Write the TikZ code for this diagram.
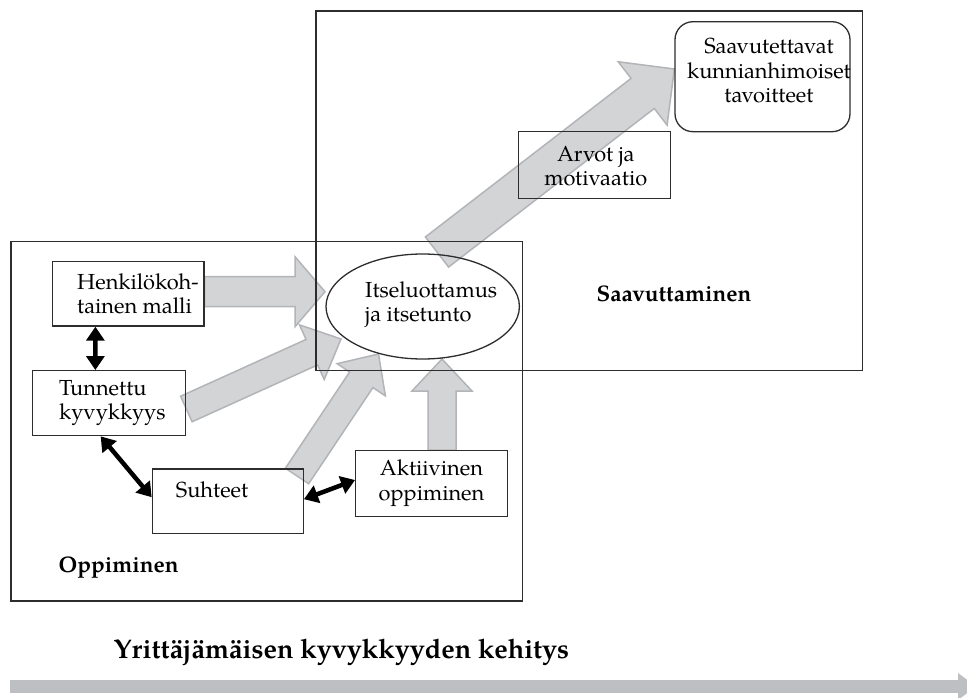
\documentclass[tikz,border=0pt]{standalone}
\usepackage{fontspec}
\setmainfont{TeX Gyre Pagella}
\usetikzlibrary{calc,arrows.meta,shapes.geometric}
\pgfdeclarelayer{background}
\pgfsetlayers{background,main}

\definecolor{frame}{RGB}{45,45,45}
\definecolor{blockfill}{RGB}{211,212,214}
\definecolor{blockedge}{RGB}{178,180,183}
\definecolor{timeline}{RGB}{190,191,194}

\tikzset{
  every node/.style={font=\fontsize{21.8}{24.5}\selectfont},
  region/.style={draw=frame, line width=1.4pt},
  box/.style={draw=frame, line width=1.3pt, rectangle, inner sep=0pt},
  txt/.style={inner sep=0pt, align=left},
  ctxt/.style={inner sep=0pt, align=center},
  heading/.style={inner sep=0pt, font=\fontsize{22.5}{26}\selectfont\bfseries},
  grayarrow/.style={fill=blockfill, draw=blockedge, line width=1.5pt, line join=miter},
  link/.style={draw=black, line width=4.5pt,
    {Triangle[width=18pt,length=14pt]}-{Triangle[width=18pt,length=14pt]}},
}

% block arrow: #1 start, #2 tip, #3 half shaft width, #4 half head width, #5 head length
\newcommand\blockarr[5]{%
  \coordinate (ba-h) at ($(#2)!#5!(#1)$);
  \draw[grayarrow]
    ($(#1)!#3!90:(#2)$) -- ($(ba-h)!#3!90:(#2)$) -- ($(ba-h)!#4!90:(#2)$) --
    (#2) --
    ($(ba-h)!#4!-90:(#2)$) -- ($(ba-h)!#3!-90:(#2)$) -- ($(#1)!#3!-90:(#2)$) -- cycle;
}

\begin{document}
\begin{tikzpicture}[x=1pt, y=-1pt]
\clip (0,0) rectangle (967,698);

% the two phases
\draw[region] (11,241.7) rectangle (522.7,601);
\draw[region] (316,11) rectangle (862.7,370.7);

% boxes
\node[box, minimum width=151.7pt, minimum height=64.3pt] (henk) at (128.2,293.9) {};
\node[box, minimum width=153.4pt, minimum height=65pt] (tunn) at (109,403.2) {};
\node[box, minimum width=151pt, minimum height=64.3pt] (suht) at (227.8,501.2) {};
\node[box, minimum width=151.6pt, minimum height=66pt] (akt) at (431.5,483.7) {};
\node[box, minimum width=152pt, minimum height=67pt] (arvot) at (594.7,164.7) {};
\node[box, rounded corners=18pt, minimum width=175pt, minimum height=110pt] (saav) at (762.5,76.7) {};
\node[draw=frame, line width=1.3pt, ellipse, inner sep=0pt,
      minimum width=193.4pt, minimum height=105pt] (ell) at (422.7,306.5) {};

% box texts
\node[txt, anchor=west] (henkT) at (77,294) {Henkilökoh-\\tainen malli};
\node[txt, anchor=west] (tunnT) at (59,403) {Tunnettu\\kyvykkyys};
\node[txt, anchor=west] (suhtT) at (175.7,490) {Suhteet};
\node[ctxt] (aktT) at (431.5,483) {Aktiivinen\\oppiminen};
\node[txt, anchor=west] (ellT) at (365,304.5) {Itseluottamus\\ja itsetunto};
\node[ctxt] (arvotT) at (595.8,166) {Arvot ja\\motivaatio};
\node[ctxt] (saavT) at (769,70.5) {Saavutettavat\\kunnianhimoiset\\tavoitteet};

% phase labels
\node[heading] (achL) at (674,294) {Saavuttaminen};
\node[heading, anchor=west] (learnL) at (58.5,568) {Oppiminen};
\node[heading, anchor=west, font=\fontsize{27}{30}\selectfont\bfseries] (devL) at (113.3,652) {Yrittäjämäisen kyvykkyyden kehitys};

% block arrows behind the frames
\begin{pgfonlayer}{background}
  \coordinate (a1) at ([yshift=2.2pt]henk.east);
  \coordinate (b1) at (325,291.7);
  \blockarr{a1}{b1}{15pt}{35pt}{30pt}
  \coordinate (a2) at ([yshift=-5.8pt]tunn.east);
  \coordinate (b2) at (341,339);
  \blockarr{a2}{b2}{14pt}{30pt}{32pt}
  \coordinate (a3) at (297,476);
  \coordinate (b3) at (378.5,354);
  \blockarr{a3}{b3}{14pt}{29pt}{31pt}
  \coordinate (a4) at ([xshift=10.5pt]akt.north);
  \coordinate (b4) at (442,359);
  \blockarr{a4}{b4}{14pt}{30pt}{32pt}
  \coordinate (a5) at (437,252);
  \coordinate (b5) at ([yshift=7.7pt]saav.west);
  \blockarr{a5}{b5}{19pt}{40pt}{40pt}
\end{pgfonlayer}

% two-way links
\coordinate (l1a) at ([xshift=43.7pt]henk.south west);
\coordinate (l1b) at ([xshift=63.7pt]tunn.north west);
\draw[link] (l1a) -- (l1b);
\coordinate (l2a) at ([xshift=69pt]tunn.south west);
\coordinate (l2b) at ([yshift=4pt]suht.west);
\draw[link] (l2a) -- (l2b);
\coordinate (l3a) at ([yshift=2pt]suht.east);
\coordinate (l3b) at ([yshift=3.7pt]akt.west);
\draw[link] (l3a) -- (l3b);

% development timeline
\fill[timeline] (10,680) rectangle (958,693);
\fill[timeline] (958,673) -- (976,686.5) -- (958,700) -- cycle;
\end{tikzpicture}
\end{document}
